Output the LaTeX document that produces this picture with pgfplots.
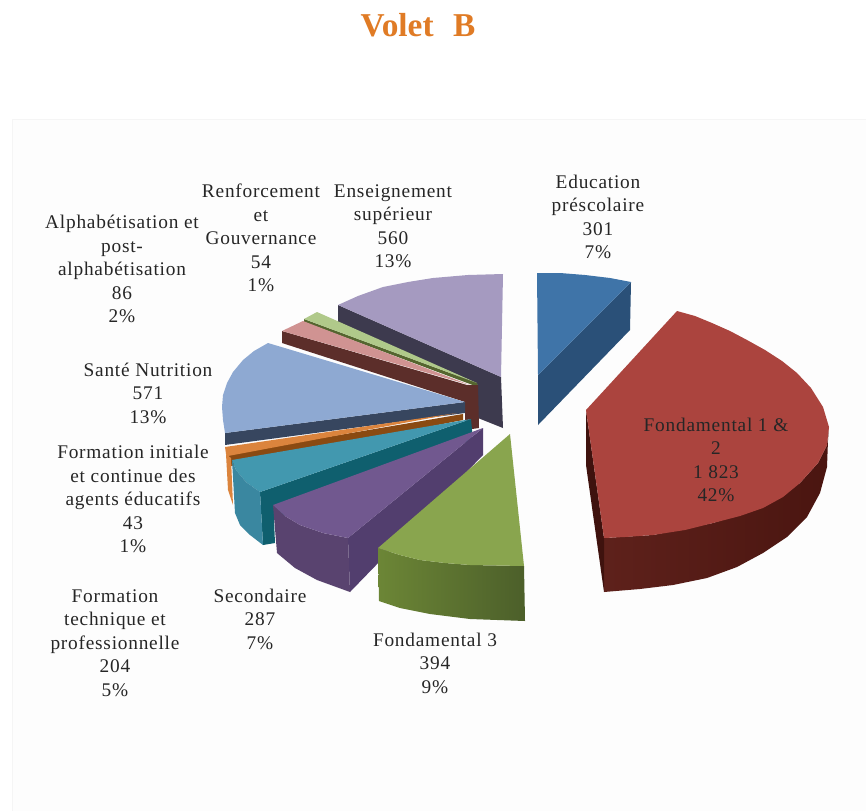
\documentclass[border=0pt]{standalone}
\usepackage{fontspec}
\setmainfont[LetterSpace=4]{Liberation Serif}
\newfontfamily\titlefont{Liberation Serif}
\usepackage{pgfplots}
\pgfplotsset{compat=1.18}
\definecolor{titleOr}{HTML}{E07B25}
\definecolor{blueT}{HTML}{3F74A8}\definecolor{blueS}{HTML}{2A5078}
\definecolor{redT}{HTML}{AB443E}\definecolor{redS}{HTML}{4A1510}\definecolor{redL}{HTML}{5E211B}
\definecolor{grnT}{HTML}{89A54E}\definecolor{grnL}{HTML}{6C8636}\definecolor{grnS}{HTML}{4C5F2A}
\definecolor{purT}{HTML}{71588F}\definecolor{purS}{HTML}{523E6E}\definecolor{purF}{HTML}{59436F}
\definecolor{teaT}{HTML}{4298AF}\definecolor{teaF}{HTML}{3A87A0}\definecolor{teaS}{HTML}{0F5F6E}
\definecolor{oraT}{HTML}{DB843D}\definecolor{oraS}{HTML}{8A4A12}
\definecolor{lbuT}{HTML}{8EA9D2}\definecolor{lbuS}{HTML}{37465F}
\definecolor{pnkT}{HTML}{D09392}\definecolor{pnkS}{HTML}{5C2E2A}
\definecolor{lgrT}{HTML}{B0C98A}\definecolor{lgrS}{HTML}{55652F}
\definecolor{lavT}{HTML}{A59AC0}\definecolor{lavS}{HTML}{3D3A4E}
\tikzset{lab/.style={align=center, inner sep=0pt, text=black!85,
  font=\fontsize{14.5}{17.6}\selectfont}}
\begin{document}
\begin{tikzpicture}
\begin{axis}[
  scale only axis, width=649.5pt, height=607.5pt,
  xmin=0, xmax=866, ymin=0, ymax=810, y dir=reverse,
  axis lines=none, clip=true,
]
  % whole page, keeps the bounding box at full size
  \addplot[draw=none, fill=white] coordinates {(0,0)(866,0)(866,810)(0,810)(0,0)};
  % panel, runs off the bottom and right
  \addplot[draw=black!4, fill=black!0.7] coordinates {(12,830)(12,119)(880,119)(880,830)};
  % enseignement superieur
  \addplot[draw=none, fill=lavS] coordinates {(338,305)(501,377)(503,428)(478,418)(478,385)(338,323)};
  \addplot[draw=none, fill=lavT] coordinates {(338,305)(358,296)(383,287)(408,282)(433,278)(468,275)(503,274)(501,377)};
  % renforcement
  \addplot[draw=none, fill=lgrS] coordinates {(304,319)(477,383)(478,387)(304,322)};
  \addplot[draw=none, fill=lgrT] coordinates {(304,319)(317,312)(477,383)};
  % alphabetisation
  \addplot[draw=none, fill=pnkS] coordinates {(282,331)(467,385)(478,385)(479,428)(465,430)(465,402)(282,343)};
  \addplot[draw=none, fill=pnkT] coordinates {(282,331)(303,321)(470,385)};
  % sante
  \addplot[draw=none, fill=lbuS] coordinates {(225,433)(465,402)(465,413)(225,445)};
  \addplot[draw=none, fill=lbuT] coordinates {(268,343)(254,351)(243,360)(233,372)(227,383)(223,395)(222,407)(223,420)(225,433)(465,402)};
  % formation initiale
  \addplot[draw=none, fill=oraS] coordinates {(227,454)(463,414)(463,420)(231,466)};
  \addplot[draw=none, fill=oraT] coordinates {(225,447)(457,413)(228,456)(226,454)};
  \addplot[draw=none, fill=oraT] coordinates {(226,454)(231,458)(233,505)(228,490)};
  % formation technique
  \addplot[draw=none, fill=teaS] coordinates {(260,492)(471,419)(472,430)(472,440)(274,520)(275,543)(263,545)};
  \addplot[draw=none, fill=teaT] coordinates {(232,460)(236,470)(246,482)(260,492)(471,419)};
  \addplot[draw=none, fill=teaF] coordinates {(232,460)(236,470)(246,482)(260,492)(263,545)(250,535)(240,525)(235,513)};
  % secondaire
  \addplot[draw=none, fill=purS] coordinates {(348,538)(483,428)(483,455)(350,592)};
  \addplot[draw=none, fill=purF] coordinates {(273,505)(285,516)(300,525)(323,533)(348,538)(350,592)(317,580)(295,568)(277,553)};
  \addplot[draw=none, fill=purT] coordinates {(273,505)(285,516)(300,525)(323,533)(348,538)(483,428)};
  % fondamental 3
  \addplot[draw=none, left color=grnL, right color=grnS] coordinates {(378,548)(400,555)(420,560)(445,563)(470,565)(524,566)(525,621)(470,619)(430,614)(400,608)(379,601)};
  \addplot[draw=none, fill=grnT] coordinates {(378,548)(400,555)(420,560)(445,563)(470,565)(524,566)(510,434)};
  % education prescolaire
  \addplot[draw=none, fill=blueS] coordinates {(538,375)(631,282)(630,330)(538,425)};
  \addplot[draw=none, fill=blueT] coordinates {(537,273)(560,273)(585,275)(610,278)(631,282)(538,375)};
  % fondamental 1 et 2
  \addplot[draw=none, left color=redL, right color=redS] coordinates {(604,538)(653,535)(713,523)(763,507)(800,483)(818,463)(827,445)(829,427)(828,440)(827,467)(820,493)(807,517)(787,537)(763,553)(737,567)(707,578)(673,585)(640,589)(604,592)};
  \addplot[draw=none, fill=redS!85!black] coordinates {(586,410)(604,538)(604,592)(586,465)};
  \addplot[draw=none, fill=redT] coordinates {(677,311)(695,316)(712,323)(730,331)(747,340)(765,350)(782,361)(797,373)(811,388)(823,407)(829,427)(827,445)(818,463)(800,483)(783,497)(763,508)(740,516)(713,523)(685,530)(653,535)(625,537)(604,538)(586,410)};
  % labels
  \node[font=\titlefont\fontsize{25}{25}\selectfont\bfseries, text=titleOr] at (axis cs:418,25) {Volet\, \,B};
  \node[lab] at (axis cs:598,217) {Education\\préscolaire\\301\\7\%};
  \node[lab] at (axis cs:716,460) {Fondamental 1 \&\\2\\1 823\\42\%};
  \node[lab] at (axis cs:435,663) {Fondamental 3\\394\\9\%};
  \node[lab] at (axis cs:260,619) {Secondaire\\287\\7\%};
  \node[lab] at (axis cs:115,643) {Formation\\technique et\\professionnelle\\204\\5\%};
  \node[lab] at (axis cs:133,499) {Formation initiale\\et continue des\\agents éducatifs\\43\\1\%};
  \node[lab] at (axis cs:148,393) {Santé Nutrition\\571\\13\%};
  \node[lab] at (axis cs:122,269) {Alphabétisation et\\post-\\alphabétisation\\86\\2\%};
  \node[lab] at (axis cs:261,238) {Renforcement\\et\\Gouvernance\\54\\1\%};
  \node[lab] at (axis cs:393,226) {Enseignement\\supérieur\\560\\13\%};
\end{axis}
\end{tikzpicture}
\end{document}
